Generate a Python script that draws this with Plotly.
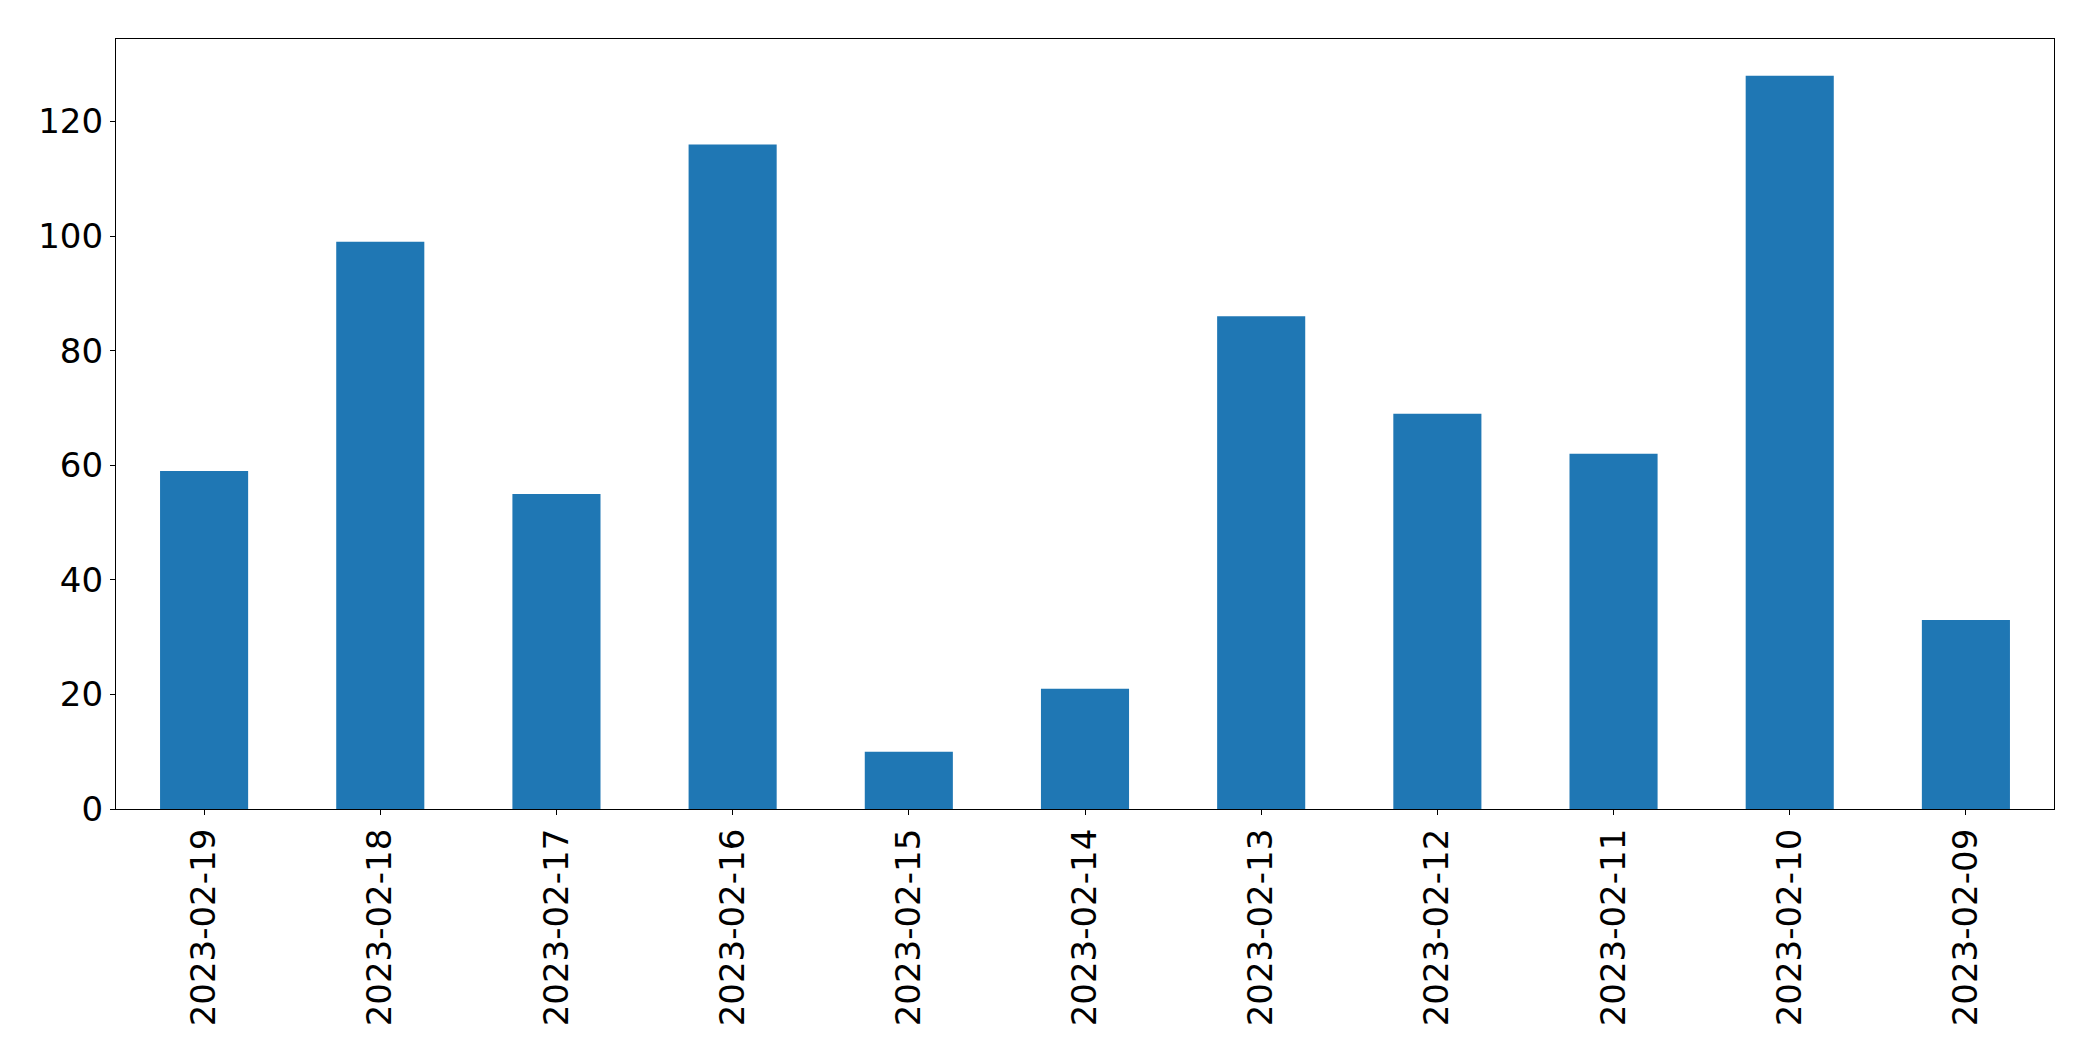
import plotly.graph_objects as go

dates = ["2023-02-19", "2023-02-18", "2023-02-17", "2023-02-16", "2023-02-15",
         "2023-02-14", "2023-02-13", "2023-02-12", "2023-02-11", "2023-02-10",
         "2023-02-09"]
values = [59, 99, 55, 116, 10, 21, 86, 69, 62, 128, 33]
y_ticks = [0, 20, 40, 60, 80, 100, 120]

fig = go.Figure(go.Bar(
    x=dates, y=values, width=0.5,
    marker=dict(color="#1f77b4", line=dict(width=0)),
))

fig.update_layout(
    width=2077, height=1045,
    margin=dict(l=108, r=31, t=31, b=244),
    paper_bgcolor="white", plot_bgcolor="white",
    font=dict(family="DejaVu Sans", size=34, color="black"),
    showlegend=False,
    bargap=0.5,
)
fig.update_xaxes(
    type="category", range=[-0.5, len(dates) - 0.5],
    tickangle=-90, ticks="outside", ticklen=5, tickwidth=1.1, tickcolor="black",
    showline=True, linecolor="black", linewidth=1.3, mirror=True,
    showgrid=False, zeroline=False,
    tickfont=dict(family="DejaVu Sans", size=34, color="black"),
)
fig.update_yaxes(
    range=[0, max(values) * 1.05], tickvals=y_ticks,
    ticks="outside", ticklen=5, tickwidth=1.1, tickcolor="black",
    showline=True, linecolor="black", linewidth=1.3, mirror=True,
    showgrid=False, zeroline=False,
    tickfont=dict(family="DejaVu Sans", size=34, color="black"),
)

fig.write_html("out.html")
